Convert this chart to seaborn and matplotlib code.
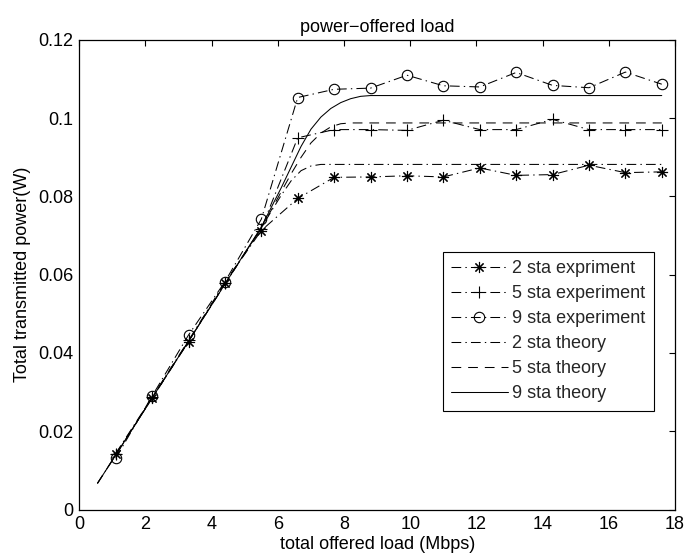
import numpy as np
import pandas as pd
import matplotlib
matplotlib.use("Agg")
import matplotlib.pyplot as plt
import seaborn as sns

# ---------------- data ----------------
x_exp = [1.1, 2.2, 3.3, 4.4, 5.5, 6.6, 7.7, 8.8, 9.9, 11.0, 12.1, 13.2, 14.3, 15.4, 16.5, 17.6]
sta2_exp = [0.0142, 0.0284, 0.0429, 0.0580, 0.0713, 0.0795, 0.0849, 0.0850, 0.0853, 0.0850,
            0.0873, 0.0854, 0.0856, 0.0880, 0.0861, 0.0863]
sta5_exp = [0.0143, 0.0287, 0.0432, 0.0580, 0.0718, 0.0950, 0.0971, 0.0971, 0.0969, 0.0995,
            0.0971, 0.0971, 0.0997, 0.0971, 0.0971, 0.0971]
sta9_exp = [0.0131, 0.0290, 0.0446, 0.0582, 0.0742, 0.1053, 0.1074, 0.1077, 0.1110, 0.1083,
            0.1080, 0.1117, 0.1084, 0.1078, 0.1118, 0.1087]

sta2_th_x = [0.55, 1.1, 2.2, 3.3, 4.4, 5.5, 5.8, 6.1, 6.4, 6.7, 7.0, 7.3, 17.6]
sta2_th_y = [0.0067, 0.0139, 0.0285, 0.0430, 0.0576, 0.0720, 0.0762, 0.0803, 0.0840, 0.0866,
             0.0878, 0.0882, 0.0882]
sta5_th_x = [0.55, 1.1, 2.2, 3.3, 4.4, 5.5, 5.8, 6.1, 6.4, 6.7, 7.0, 7.3, 7.6, 7.9, 8.2, 17.6]
sta5_th_y = [0.0067, 0.0139, 0.0285, 0.0430, 0.0576, 0.0720, 0.0765, 0.0812, 0.0858, 0.0900,
             0.0937, 0.0962, 0.0978, 0.0986, 0.0988, 0.0988]
sta9_th_x = [0.55, 1.1, 2.2, 3.3, 4.4, 5.5, 5.8, 6.1, 6.4, 6.7, 7.0, 7.3, 7.6, 7.9, 8.2, 8.5, 8.8, 17.6]
sta9_th_y = [0.0067, 0.0139, 0.0285, 0.0430, 0.0576, 0.0722, 0.0772, 0.0822, 0.0875, 0.0928,
             0.0972, 0.1003, 0.1025, 0.1040, 0.1050, 0.1056, 0.1058, 0.1058]

series_labels = ["2 sta expriment", "5 sta experiment", "9 sta experiment",
                 "2 sta theory", "5 sta theory", "9 sta theory"]
xticks = [0, 2, 4, 6, 8, 10, 12, 14, 16, 18]
yticks = [0, 0.02, 0.04, 0.06, 0.08, 0.1, 0.12]
ytick_labels = ["0", "0.02", "0.04", "0.06", "0.08", "0.1", "0.12"]
title = "power\u2212offered load"
xlabel = "total offered load (Mbps)"
ylabel = "Total transmitted power(W)"

# ---------------- style ----------------
sns.set_style("white")
plt.rcParams["font.family"] = ["Liberation Sans", "DejaVu Sans"]
plt.rcParams["lines.scale_dashes"] = False
FS = 13

fig = plt.figure(figsize=(6.85, 5.57), dpi=100)
ax = fig.add_axes([79.3 / 685, 1 - 509.5 / 557, 595.7 / 685, 469.5 / 557])

dashdot = (0, (7, 3, 1, 3))
dashed = (0, (7, 5))
lw = 0.75
common = dict(ax=ax, color="black", lw=lw, sort=False, legend=True)

sns.lineplot(x=x_exp, y=sta2_exp, label=series_labels[0], linestyle=dashdot,
             marker=(8, 2, 0), markersize=8, markeredgewidth=0.8,
             markeredgecolor="black", markerfacecolor="none", **common)
sns.lineplot(x=x_exp, y=sta5_exp, label=series_labels[1], linestyle=dashdot,
             marker="+", markersize=9, markeredgewidth=0.8,
             markeredgecolor="black", **common)
sns.lineplot(x=x_exp, y=sta9_exp, label=series_labels[2], linestyle=dashdot,
             marker="o", markersize=7.5, markeredgewidth=0.8,
             markeredgecolor="black", markerfacecolor="none", **common)
sns.lineplot(x=sta2_th_x, y=sta2_th_y, label=series_labels[3], linestyle=dashdot, **common)
sns.lineplot(x=sta5_th_x, y=sta5_th_y, label=series_labels[4], linestyle=dashed, **common)
sns.lineplot(x=sta9_th_x, y=sta9_th_y, label=series_labels[5], linestyle="-", **common)

ax.set_xlim(0, 18)
ax.set_ylim(0, 0.12)
ax.set_xticks(xticks)
ax.set_xticklabels([str(t) for t in xticks])
ax.set_yticks(yticks)
ax.set_yticklabels(ytick_labels)
ax.tick_params(direction="in", top=True, right=True, length=4, width=0.8,
               labelsize=FS, colors="black")
ax.tick_params(axis="y", pad=4.3)
ax.tick_params(axis="x", pad=5)
for s in ax.spines.values():
    s.set_visible(True)
    s.set_color("black")
    s.set_linewidth(0.9)

ax.set_title(title, fontsize=FS, pad=6, color="black")
ax.set_xlabel(xlabel, fontsize=FS, labelpad=1.5, color="black")
ax.set_ylabel(ylabel, fontsize=FS, labelpad=5, color="black")

leg = ax.legend(loc="upper left", bbox_to_anchor=(442.7 / 685, 1 - 251.7 / 557),
                bbox_transform=fig.transFigure, borderaxespad=0, fontsize=FS,
                frameon=True, fancybox=False, shadow=False, framealpha=1,
                edgecolor="black", handlelength=3.15, handletextpad=0.25,
                labelspacing=0.45, borderpad=0.45)
leg.get_frame().set_linewidth(0.8)

fig.savefig("out.png", dpi=100)
